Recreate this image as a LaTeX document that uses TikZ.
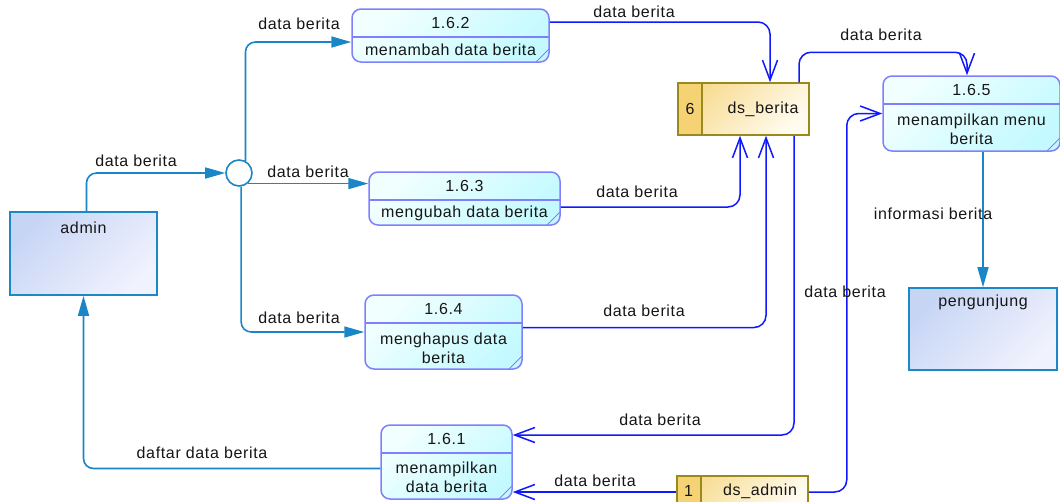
\documentclass[tikz,border=0pt]{standalone}
\usepackage{fontspec}
\setmainfont{Liberation Sans}[LetterSpace=4]
\usepackage{tikz}
\usetikzlibrary{arrows.meta,positioning,calc}
\definecolor{ink}{HTML}{161616}
\definecolor{procline}{HTML}{8080FF}
\definecolor{proctop}{HTML}{F2FFFF}
\definecolor{proccyan}{HTML}{C4FAFF}
\definecolor{extline}{HTML}{1D88C8}
\definecolor{extblue}{HTML}{C7D5F5}
\definecolor{extpale}{HTML}{F0F2FD}
\definecolor{storeline}{HTML}{9A8A1E}
\definecolor{storegold}{HTML}{F5D274}
\definecolor{storepale}{HTML}{FFFBEE}
\definecolor{flowteal}{HTML}{1A86C8}
\definecolor{flowblue}{HTML}{1018FF}

\tikzset{
  dfdtext/.style={inner sep=0pt, text=ink, align=center,
    font=\fontsize{16}{19}\selectfont},
  process/.style={
    draw=procline, line width=1.5pt, rounded corners=9pt,
    top color=proctop, bottom color=proccyan, shading angle=45,
    path picture={
      \draw[procline, line width=1.5pt]
        ([yshift=-28pt]path picture bounding box.north west) --
        ([yshift=-28pt]path picture bounding box.north east);
      \draw[procline, line width=1pt]
        ([xshift=-13pt]path picture bounding box.south east) --
        ([yshift=13pt]path picture bounding box.south east);
    }},
  entity/.style={
    draw=extline, line width=1.6pt,
    top color=extblue, bottom color=extpale, shading angle=45},
  store/.style={
    draw=storeline, line width=1.5pt,
    top color=storegold!80!white, bottom color=storepale, shading angle=45,
    path picture={
      \fill[storegold] (path picture bounding box.north west) rectangle
        ([xshift=24pt]path picture bounding box.south west);
      \draw[storeline, line width=1.5pt]
        ([xshift=24pt]path picture bounding box.north west) --
        ([xshift=24pt]path picture bounding box.south west);
    }},
  junction/.style={circle, draw=flowteal, line width=1.6pt, fill=white,
    minimum size=26pt, inner sep=0pt},
  flowt/.style={draw=flowteal, line width=1.6pt, rounded corners=10pt,
    -{Triangle[length=20pt,width=11pt]}},
  flowb/.style={draw=flowblue, line width=1.5pt, rounded corners=12pt,
    -{Straight Barb[length=20pt,width=15pt]}}
}

\begin{document}
\begin{tikzpicture}[x=1pt,y=-1pt]
    \path[use as bounding box, fill=white] (0,0) rectangle (1060,501);

    % processes
    \node[process, minimum width=197pt, minimum height=53pt] (p162) at (450.5,35.5) {};
    \node[dfdtext] (p162n) at (450.5,23) {1.6.2};
    \node[dfdtext] (p162t) at (450.5,50) {menambah data berita};

    \node[process, minimum width=191pt, minimum height=53pt] (p163) at (464.5,198.5) {};
    \node[dfdtext] (p163n) at (464.5,186) {1.6.3};
    \node[dfdtext] (p163t) at (464.5,213) {mengubah data berita};

    \node[process, minimum width=157pt, minimum height=74pt] (p164) at (443.5,332) {};
    \node[dfdtext] (p164n) at (443.5,309) {1.6.4};
    \node[dfdtext] (p164t) at (443.5,348) {menghapus data\\berita};

    \node[process, minimum width=177pt, minimum height=75pt] (p165) at (971.5,113.5) {};
    \node[dfdtext] (p165n) at (971.5,90) {1.6.5};
    \node[dfdtext] (p165t) at (971.5,129) {menampilkan menu\\berita};

    \node[process, minimum width=131pt, minimum height=74pt] (p161) at (446.5,462) {};
    \node[dfdtext] (p161n) at (446.5,439) {1.6.1};
    \node[dfdtext] (p161t) at (446.5,477) {menampilkan\\data berita};

    % external entities
    \node[entity, minimum width=147pt, minimum height=83pt] (admin) at (83.5,253.5) {};
    \node[dfdtext] (adminl) at (83.5,228) {admin};
    \node[entity, minimum width=148pt, minimum height=82pt] (peng) at (983,329) {};
    \node[dfdtext] (pengl) at (983,302) {pengunjung};

    % data stores
    \node[store, minimum width=131pt, minimum height=52pt] (ds) at (743.5,109) {};
    \node[dfdtext] (dsn) at (690,109) {6};
    \node[dfdtext] (dst) at (763,109) {ds\_berita};
    \node[store, minimum width=131pt, minimum height=32pt] (dsa) at (742.5,492) {};
    \node[dfdtext] (dsan) at (688.5,491) {1};
    \node[dfdtext] (dsat) at (760,491) {ds\_admin};

    \node[junction] (junc) at (239,173) {};

    % flows
    \draw[flowt] ([xshift=3pt]admin.north) |- (junc.west);
    \draw[flowt] (junc.62) |- ([yshift=-6.5pt]p162.west);
    \draw[flowt] (junc.-50) -- (junc.-50 -| p163.west);
    \draw[flowt] (junc.-81) |- (p164.west);
    \draw[flowt] ([yshift=-6.5pt]p161.west) -| (admin.south);
    \draw[flowt] (peng.north |- p165.south) -- (peng.north);

    \draw[flowb] ([yshift=13.5pt]p162.east) -| ([xshift=26.5pt]ds.north);
    \draw[flowb] ([yshift=-8.5pt]p163.east) -| ([xshift=-3.5pt]ds.south);
    \draw[flowb] ([yshift=4.5pt]p164.east) -| ([xshift=22.5pt]ds.south);
    \draw[flowb] ([xshift=55.5pt]ds.north) -- ++(0,-30) -| ([xshift=-4.5pt]p165.north);
    \draw[flowb] ([xshift=50.5pt]ds.south) |- ([yshift=27pt]p161.east);
    \draw[flowb] (dsa.east) -- ++(38,0) |- (p165.west);
    \draw[flowb] (dsa.west) -- (dsa.west -| p161.east);

    % flow labels
    \node[dfdtext] (l1) at (136,161) {data berita};
    \node[dfdtext] (l2) at (299,24) {data berita};
    \node[dfdtext] (l3) at (308,172) {data berita};
    \node[dfdtext] (l4) at (299,318) {data berita};
    \node[dfdtext] (l5) at (634,12) {data berita};
    \node[dfdtext] (l6) at (637,192) {data berita};
    \node[dfdtext] (l7) at (644,311) {data berita};
    \node[dfdtext] (l8) at (881,35) {data berita};
    \node[dfdtext] (l9) at (660,420) {data berita};
    \node[dfdtext] (l10) at (845,292) {data berita};
    \node[dfdtext] (l11) at (595,481) {data berita};
    \node[dfdtext] (l12) at (933,214) {informasi berita};
    \node[dfdtext] (l13) at (202,453) {daftar data berita};
\end{tikzpicture}
\end{document}
